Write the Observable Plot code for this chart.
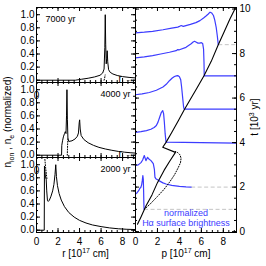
<!DOCTYPE html>
<html><head><meta charset="utf-8">
<script src="https://cdn.jsdelivr.net/npm/d3@7"></script>
<script src="https://cdn.jsdelivr.net/npm/@observablehq/plot@0.6"></script>
<style>
body{margin:0;background:#fff;}
#fig{position:relative;width:266px;height:266px;overflow:hidden;font-family:"Liberation Sans",Arial,sans-serif;color:#000;}
#fig svg{position:absolute;}
.ttl{position:absolute;font-size:10px;white-space:nowrap;line-height:1;}
.ttl sup,.ttl sub{font-size:70%;line-height:0;}
</style></head><body><div id="fig"></div>
<script>
// ---- left panels: normalized densities vs r [1e17 cm] ----
const r7000  = [0, 3.6, 4.2, 4.8, 5.4, 5.9, 6.15, 6.28, 6.35, 6.39, 6.43, 6.48, 6.53, 6.57, 6.62, 6.7, 6.85, 7.1, 7.5, 8.0, 8.6, 9.2];
const ne7000 = [0, 0, 0.015, 0.03, 0.05, 0.075, 0.11, 0.17, 0.5, 1.0, 0.55, 0.25, 0.33, 0.45, 0.28, 0.16, 0.12, 0.095, 0.072, 0.055, 0.043, 0.035];
const ri7000 = [6.28, 6.33, 6.38];
const ni7000 = [0, 0.03, 0.08];

const r4000  = [0, 2.33, 2.35, 2.42, 2.5, 2.6, 2.68, 2.74, 2.79, 2.83, 2.87, 2.92, 3.0, 3.3, 3.6, 3.8, 3.9, 3.97, 4.01, 4.06, 4.15, 4.4, 4.8, 5.3, 5.8, 6.4, 7.0, 7.6, 8.2, 8.7, 9.2];
const ne4000 = [0, 0, 0.15, 0.22, 0.28, 0.33, 0.36, 0.33, 0.6, 1.0, 0.55, 0.25, 0.21, 0.22, 0.25, 0.29, 0.34, 0.5, 0.54, 0.4, 0.3, 0.24, 0.19, 0.15, 0.12, 0.095, 0.075, 0.058, 0.046, 0.038, 0.032];
const ri4000 = [2.86, 2.88, 2.9, 2.93];
const ni4000 = [0, 0.1, 0.2, 0.25];

const r2000  = [0, 0.72, 0.74, 0.78, 0.84, 0.9, 0.95, 1.02, 1.1, 1.2, 1.35, 1.5, 1.62, 1.72, 1.79, 1.85, 1.95, 2.1, 2.3, 2.6, 3.0, 3.5, 4.0, 4.6, 5.2, 6.0, 6.8, 7.6, 8.4, 9.2];
const ne2000 = [0, 0, 0.98, 0.9, 0.8, 0.78, 0.6, 0.45, 0.44, 0.46, 0.52, 0.6, 0.7, 0.85, 1.0, 0.82, 0.68, 0.56, 0.46, 0.36, 0.27, 0.2, 0.15, 0.11, 0.08, 0.055, 0.035, 0.022, 0.014, 0.01];
const ri2000 = [0.78, 0.85, 0.92, 0.97];
const ni2000 = [1.08, 0.95, 0.85, 0.78];

const panelLabels = ["7000 yr", "4000 yr", "2000 yr"];
const rTicks = [0, 2, 4, 6, 8];
const vTicks = [0, 0.2, 0.4, 0.6, 0.8, 1.0];

// ---- right panel: Halpha profiles vs p, offset by epoch t [1e3 yr] ----
const pA = [0, 0.15, 0.3, 0.4, 0.48, 0.56, 0.62, 0.67, 0.71, 0.74, 0.76, 0.78];
const tA = [1.69, 1.75, 1.85, 1.95, 1.98, 2.1, 2.3, 2.52, 2.35, 1.8, 1.3, 1.0];
const pB = [0, 0.25, 0.5, 0.65, 0.8, 0.95, 1.1, 1.25, 1.41, 1.62, 1.72, 1.77, 1.85, 2.17, 2.5, 2.78, 3.3, 4.0, 4.6, 5.07];
const tB = [2.97, 3.0, 3.1, 3.22, 3.42, 3.19, 3.34, 3.25, 3.19, 3.05, 2.8, 2.45, 2.38, 2.28, 2.19, 2.14, 2.08, 2.03, 2.01, 2.0];
const pC = [0, 0.5, 1.0, 1.4, 1.7, 1.9, 2.05, 2.2, 2.35, 2.48, 2.56, 2.63, 2.7, 2.78, 9.2];
const tC = [4.46, 4.49, 4.54, 4.6, 4.68, 4.77, 4.92, 5.14, 5.35, 5.44, 5.3, 4.9, 4.4, 4.02, 3.98];
const pD = [0, 0.6, 1.26, 1.9, 2.5, 2.8, 3.09, 3.35, 3.55, 3.72, 3.85, 4.0, 4.12, 4.2, 4.28, 4.38, 4.43, 9.2];
const tD = [6.15, 6.19, 6.25, 6.35, 6.5, 6.62, 6.78, 6.9, 6.97, 7.0, 7.01, 6.96, 6.82, 6.5, 6.1, 5.6, 5.5, 5.5];
const pE = [0, 0.8, 1.56, 2.3, 3.09, 3.7, 3.85, 4.0, 4.6, 5.07, 5.25, 5.38, 5.5, 5.69, 5.85, 6.0, 6.12, 6.2, 6.24, 6.26, 9.2];
const tE = [7.81, 7.85, 7.91, 7.98, 8.06, 8.13, 8.18, 8.17, 8.28, 8.44, 8.52, 8.55, 8.52, 8.47, 8.47, 8.49, 8.45, 8.2, 7.6, 7.0, 7.0];
const pF = [0, 0.8, 1.56, 2.5, 3.3, 3.85, 4.0, 4.16, 4.35, 5.0, 5.5, 5.87, 6.2, 6.45, 6.63, 6.79, 6.95, 7.1, 7.22, 7.35, 7.45, 7.54];
const tF = [8.93, 8.96, 9.0, 9.07, 9.14, 9.19, 9.22, 9.26, 9.22, 9.31, 9.39, 9.48, 9.6, 9.7, 9.78, 9.86, 9.82, 9.71, 9.5, 9.18, 8.8, 8.4];
const dashedBase = [1, 2, 8.4];           // epochs whose baseline is drawn grey dashed
const pShock = [0.18, 0.5, 0.95, 1.5, 2.0, 2.6, 3.1, 3.64, 2.48, 2.78, 3.3, 3.9, 4.43, 5.0, 5.6, 6.24, 6.9, 7.52, 8.1, 8.6, 9.1];
const tShock = [0.33, 0.66, 1.15, 1.65, 2.2, 2.75, 3.15, 3.56, 3.79, 4.01, 4.45, 4.98, 5.46, 5.95, 6.45, 7.0, 7.65, 8.37, 9.0, 9.55, 10.05];
const pDot = [0.8, 1.3, 2.0, 2.6, 3.1, 3.55, 3.9, 4.1, 4.15, 4.05, 3.85, 3.64];
const tDot = [1.0, 1.22, 1.58, 1.9, 2.22, 2.55, 2.88, 3.1, 3.3, 3.45, 3.55, 3.6];
const tTicks = [0, 2, 4, 6, 8, 10];
const pTicks = [0, 2, 4, 6, 8];

const BLUE = "#3c3cff";
const FONT = "'Liberation Sans', Arial, sans-serif";
const rMinor = d3.range(0, 9.21, 0.5);
const vMinor = d3.range(0, 1.101, 0.1);
const tMinor = d3.range(0, 10.01, 0.5);
const pts = (xs, ys, kx, ky) => xs.map((x, i) => ({[kx]: x, [ky]: ys[i]}));

const fig = document.getElementById("fig");

function tickMarks(xMaj, xMin, yMaj, yMin, W, H) {
  return [
    Plot.tickX(xMaj, {x: d => d, insetTop: H - 4}),
    Plot.tickX(xMaj, {x: d => d, insetBottom: H - 4}),
    Plot.tickX(xMin, {x: d => d, insetTop: H - 2}),
    Plot.tickX(xMin, {x: d => d, insetBottom: H - 2}),
    Plot.tickY(yMaj, {y: d => d, insetRight: W - 4}),
    Plot.tickY(yMaj, {y: d => d, insetLeft: W - 4}),
    Plot.tickY(yMin, {y: d => d, insetRight: W - 2}),
    Plot.tickY(yMin, {y: d => d, insetLeft: W - 2})
  ];
}

function leftPanel(rs, ne, ri, ni, label, left, top, height, mt, mb, xAxis) {
  const W = 137 - 36 - 2, H = height - mt - mb;
  const marks = [
    Plot.line(pts(rs, ne, "r", "v"), {x: "r", y: "v", stroke: "black", strokeWidth: 1}),
    Plot.line(pts(ri, ni, "r", "v"), {x: "r", y: "v", stroke: "black", strokeWidth: 1, strokeDasharray: "1,1.6"}),
    Plot.frame({stroke: "black"}),
    ...tickMarks(rTicks, rMinor, vTicks, vMinor, W, H),
    Plot.axisY(vTicks, {anchor: "left", tickSize: 0, tickPadding: 2, tickFormat: d3.format(".1f"), label: null, fontSize: 10}),
    Plot.text([label], {text: d => d, frameAnchor: left ? "top-left" : "top-right", dx: left ? 9 : -5, dy: 11.3, lineAnchor: "middle", fontSize: 9})
  ];
  if (xAxis) marks.push(Plot.axisX(rTicks, {anchor: "bottom", tickSize: 0, tickPadding: 5, label: null, fontSize: 10}));
  const svg = Plot.plot({
    width: 137, height, marginLeft: 36, marginRight: 2, marginTop: mt, marginBottom: mb,
    x: {domain: [0, 9.2]}, y: {domain: [-0.035, 1.11]},
    style: {background: "none", fontFamily: FONT, fontSize: "10px", overflow: "visible"},
    marks
  });
  svg.style.left = "0px"; svg.style.top = top + "px";
  fig.appendChild(svg);
}

leftPanel(r7000, ne7000, ri7000, ni7000, panelLabels[0], true, 0, 84, 7, 2, false);
leftPanel(r4000, ne4000, ri4000, ni4000, panelLabels[1], false, 80, 79, 2, 2, false);
leftPanel(r2000, ne2000, ri2000, ni2000, panelLabels[2], false, 155, 111, 2, 34, true);

// right panel
{
  const W = 133 - 2 - 30, H = 266 - 7 - 34;
  const profiles = [[pA, tA], [pB, tB], [pC, tC], [pD, tD], [pE, tE], [pF, tF]];
  const ends = [pA, pB, pF].map(p => p[p.length - 1]);
  const dashed = dashedBase.map((t, i) => ({p1: ends[i], p2: 9.2, t}));
  const svg = Plot.plot({
    width: 133, height: 266, marginLeft: 2, marginRight: 30, marginTop: 7, marginBottom: 34,
    x: {domain: [0, 9.2]}, y: {domain: [-0.04, 10.07]},
    style: {background: "none", fontFamily: FONT, fontSize: "10px", overflow: "visible"},
    marks: [
      Plot.link(dashed, {x1: "p1", x2: "p2", y1: "t", y2: "t", stroke: "#c4c4c4", strokeWidth: 1, strokeDasharray: "4,2.5"}),
      ...profiles.map(([p, t]) => Plot.line(pts(p, t, "p", "t"), {x: "p", y: "t", stroke: BLUE, strokeWidth: 1.2})),
      Plot.line(pts(pShock, tShock, "p", "t"), {x: "p", y: "t", stroke: "black", strokeWidth: 1.1}),
      Plot.line(pts(pDot, tDot, "p", "t"), {x: "p", y: "t", stroke: "black", strokeWidth: 1, strokeDasharray: "1,1.6"}),
      Plot.text(["normalized"], {text: d => d, frameAnchor: "bottom", dy: -19.5, lineAnchor: "middle", fill: BLUE, fontSize: 9}),
      Plot.text(["H\u03b1 surface brightness"], {text: d => d, frameAnchor: "bottom", dy: -9.5, lineAnchor: "middle", fill: BLUE, fontSize: 9}),
      Plot.frame({stroke: "black"}),
      ...tickMarks(pTicks, rMinor, tTicks, tMinor, W, H),
      Plot.axisY(tTicks, {anchor: "right", tickSize: 0, tickPadding: 3, label: null, fontSize: 10}),
      Plot.axisX(pTicks, {anchor: "bottom", tickSize: 0, tickPadding: 5, label: null, fontSize: 10})
    ]
  });
  svg.style.left = "133px"; svg.style.top = "0px";
  fig.appendChild(svg);
}

// axis titles
function title(html, x, y, rot) {
  const d = document.createElement("div");
  d.className = "ttl";
  d.innerHTML = html;
  d.style.left = x + "px"; d.style.top = y + "px";
  d.style.transform = "translate(-50%,-50%)" + (rot ? " rotate(-90deg)" : "");
  fig.appendChild(d);
}
title("n<sub>ion</sub> , n<sub>e</sub> (normalized)", 7.5, 122, true);
title("t [10<sup>3</sup> yr]", 255, 117, true);
title("r [10<sup>17</sup> cm]", 85.5, 254, false);
title("p [10<sup>17</sup> cm]", 186, 254, false);
</script></body></html>
